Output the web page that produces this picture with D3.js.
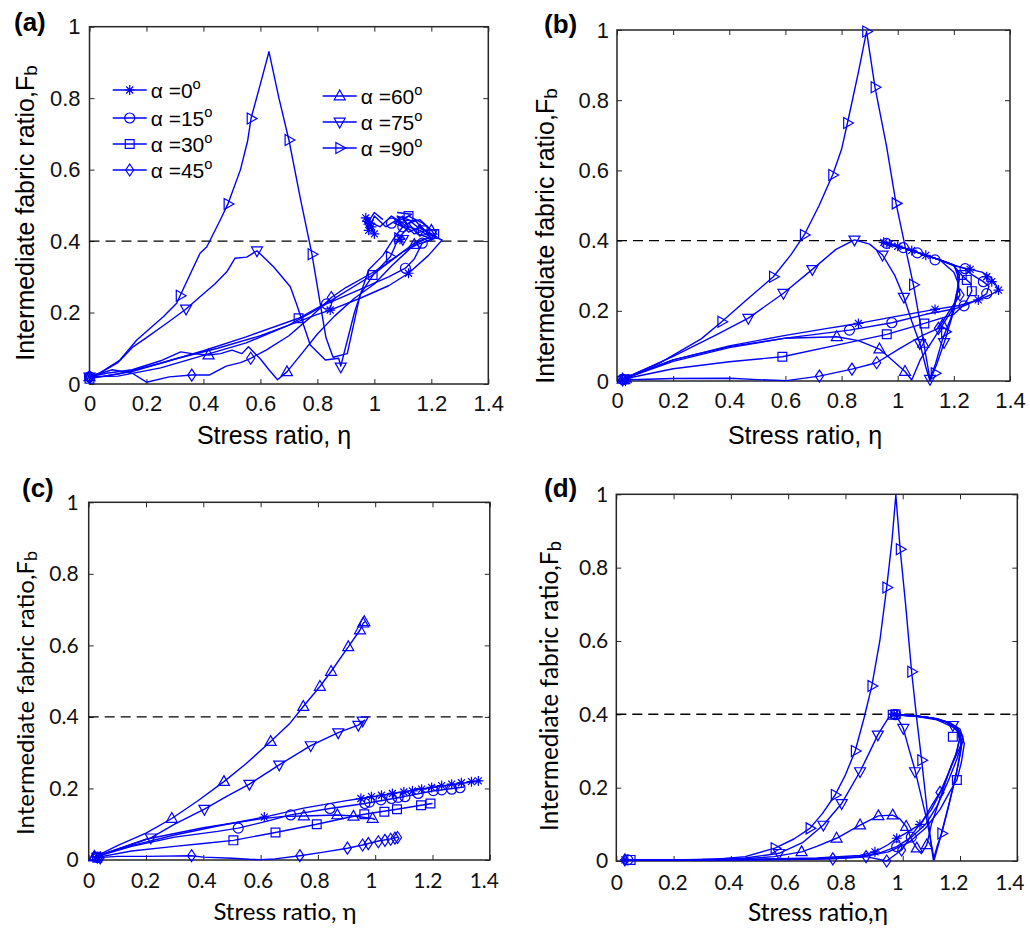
<!DOCTYPE html>
<html>
<head>
<meta charset="utf-8">
<script src="https://cdn.jsdelivr.net/npm/d3@7"></script>
<style>
  body { margin: 0; background: #fff; }
</style>
</head>
<body>
<svg id="chart" width="1030" height="931"></svg>
<script>
// axis ticks and reference level
const xTicks = [0, 0.2, 0.4, 0.6, 0.8, 1, 1.2, 1.4];
const yTicks = [0, 0.2, 0.4, 0.6, 0.8, 1];
const refLevel = 0.4;
// series: loading direction alpha (deg) and marker type
const angles = [0, 15, 30, 45, 60, 75, 90];
const symbols = ["star", "circle", "square", "diamond", "up", "down", "right"];

// (a) lines, one per alpha, [eta, Fb]
const linesA = [
  [[0,0.02],[0.05,0.022],[0.15,0.035],[0.3,0.07],[0.45,0.1],[0.6,0.135],[0.7,0.165],[0.8,0.195],[0.845,0.207],[0.95,0.24],[1.05,0.275],[1.12,0.31],[1.19,0.36],[1.238,0.403],[1.2,0.415],[1.16,0.44],[1.12,0.425],[1.08,0.46],[1.04,0.44],[1.0,0.47],[0.98,0.43],[0.965,0.455],[0.99,0.44],[0.975,0.47],[1.0,0.42],[0.985,0.45]],
  [[0,0.02],[0.1,0.022],[0.25,0.045],[0.4,0.08],[0.55,0.115],[0.7,0.165],[0.832,0.224],[0.95,0.265],[1.05,0.3],[1.109,0.324],[1.14,0.35],[1.168,0.394],[1.215,0.41],[1.18,0.43],[1.14,0.42],[1.1,0.45],[1.06,0.47],[1.02,0.44],[0.98,0.455],[1.0,0.48],[1.03,0.46]],
  [[0,0.015],[0.1,0.028],[0.25,0.058],[0.4,0.093],[0.55,0.132],[0.734,0.184],[0.85,0.235],[0.994,0.305],[1.05,0.34],[1.1,0.37],[1.15,0.39],[1.22,0.41],[1.2,0.43],[1.17,0.45],[1.12,0.47],[1.08,0.455],[1.1,0.44],[1.14,0.46],[1.19,0.42]],
  [[0,0.02],[0.08,0.04],[0.15,0.03],[0.2,0.005],[0.28,0.02],[0.359,0.025],[0.42,0.025],[0.48,0.05],[0.53,0.06],[0.566,0.072],[0.62,0.095],[0.7,0.135],[0.78,0.19],[0.849,0.242],[0.9,0.27],[0.99,0.31],[1.05,0.34],[1.1,0.37],[1.15,0.4],[1.2,0.41],[1.16,0.43],[1.12,0.44],[1.1,0.46],[1.13,0.475],[1.08,0.48]],
  [[0,0.02],[0.06,0.03],[0.15,0.04],[0.25,0.065],[0.32,0.09],[0.36,0.085],[0.418,0.081],[0.46,0.085],[0.5,0.095],[0.535,0.085],[0.558,0.104],[0.6,0.07],[0.63,0.04],[0.66,0.012],[0.693,0.034],[0.75,0.09],[0.8,0.14],[0.86,0.19],[0.93,0.24],[1.0,0.28],[1.06,0.33],[1.1,0.36],[1.14,0.39],[1.19,0.41],[1.15,0.42],[1.12,0.45],[1.16,0.46],[1.2,0.43]],
  [[0,0.02],[0.037,0.031],[0.1,0.06],[0.153,0.104],[0.2,0.13],[0.271,0.17],[0.339,0.21],[0.388,0.244],[0.44,0.28],[0.482,0.314],[0.511,0.352],[0.552,0.355],[0.588,0.373],[0.646,0.328],[0.705,0.272],[0.728,0.221],[0.775,0.109],[0.828,0.067],[0.875,0.072],[0.882,0.05],[0.93,0.2],[0.98,0.32],[1.03,0.36],[1.07,0.41],[1.1,0.44],[1.08,0.47],[1.12,0.46],[1.15,0.44],[1.2,0.42],[1.22,0.41]],
  [[0,0.02],[0.037,0.031],[0.107,0.067],[0.166,0.123],[0.259,0.188],[0.306,0.226],[0.318,0.247],[0.388,0.366],[0.412,0.384],[0.459,0.459],[0.486,0.504],[0.53,0.6],[0.555,0.68],[0.567,0.743],[0.6,0.84],[0.63,0.93],[0.665,0.8],[0.7,0.683],[0.74,0.52],[0.781,0.363],[0.83,0.13],[0.855,0.075],[0.905,0.085],[0.95,0.25],[1.0,0.31],[1.056,0.356],[1.085,0.408],[1.12,0.44],[1.1,0.47],[1.07,0.45],[1.13,0.43]]
];
const marksA = [
  [[0,0.02],[0.845,0.207],[1.12,0.31],[1.09,0.405],[0.98,0.43],[0.99,0.44],[1.0,0.42],[0.975,0.455],[0.985,0.45],[0.97,0.465]],
  [[0,0.02],[0.832,0.224],[1.109,0.324],[1.168,0.394],[1.06,0.45],[1.1,0.44]],
  [[0,0.015],[0.734,0.184],[0.994,0.305],[1.12,0.47],[1.17,0.43],[1.21,0.42]],
  [[0,0.02],[0.359,0.025],[0.566,0.072],[0.849,0.242],[1.16,0.43]],
  [[0,0.02],[0.418,0.081],[0.693,0.034],[1.14,0.39],[1.2,0.43]],
  [[0,0.02],[0.339,0.21],[0.588,0.373],[0.882,0.048],[1.1,0.405],[1.2,0.42]],
  [[0.318,0.247],[0.486,0.504],[0.567,0.743],[0.7,0.683],[0.781,0.363],[1.056,0.356],[1.085,0.408]]
];

// (b)
const linesB = [
  [[0.02,0.005],[0.2,0.06],[0.4,0.1],[0.6,0.13],[0.75,0.15],[0.86,0.164],[1.0,0.185],[1.133,0.204],[1.22,0.215],[1.287,0.231],[1.33,0.245],[1.359,0.259],[1.347,0.278],[1.329,0.297],[1.3,0.31],[1.258,0.318],[1.21,0.327],[1.15,0.345],[1.1,0.358],[1.05,0.372],[1.0,0.384],[0.97,0.39],[0.95,0.395]],
  [[0.02,0.005],[0.2,0.056],[0.4,0.095],[0.6,0.122],[0.828,0.145],[0.979,0.166],[1.1,0.19],[1.2,0.205],[1.236,0.214],[1.28,0.23],[1.317,0.249],[1.325,0.27],[1.305,0.283],[1.27,0.3],[1.24,0.32],[1.2,0.33],[1.15,0.345],[1.1,0.358],[1.05,0.372],[1.0,0.384],[0.97,0.39],[0.95,0.395]],
  [[0.02,0.005],[0.2,0.035],[0.4,0.055],[0.589,0.069],[0.8,0.105],[0.961,0.133],[1.095,0.164],[1.2,0.19],[1.24,0.22],[1.264,0.256],[1.26,0.278],[1.246,0.288],[1.228,0.302],[1.2,0.328],[1.15,0.345],[1.1,0.358],[1.05,0.372],[1.0,0.384],[0.97,0.39],[0.95,0.395]],
  [[0.02,0.003],[0.2,0.007],[0.403,0.008],[0.5,0.004],[0.604,0.001],[0.721,0.014],[0.837,0.034],[0.925,0.052],[1.008,0.093],[1.09,0.131],[1.145,0.15],[1.186,0.202],[1.222,0.245],[1.215,0.28],[1.2,0.31],[1.15,0.345],[1.1,0.358],[1.05,0.372],[1.0,0.384],[0.97,0.39],[0.95,0.395]],
  [[0.02,0.005],[0.2,0.06],[0.4,0.098],[0.6,0.122],[0.783,0.126],[0.86,0.115],[0.935,0.091],[0.98,0.06],[1.026,0.027],[1.05,0.003],[1.08,0.06],[1.12,0.11],[1.16,0.16],[1.2,0.21],[1.215,0.26],[1.215,0.3],[1.2,0.33],[1.15,0.345],[1.1,0.358],[1.05,0.372],[1.0,0.384],[0.97,0.39],[0.95,0.395]],
  [[0.02,0.005],[0.2,0.07],[0.35,0.13],[0.468,0.179],[0.593,0.25],[0.696,0.318],[0.78,0.375],[0.846,0.402],[0.9,0.39],[0.946,0.359],[0.99,0.3],[1.022,0.239],[1.05,0.17],[1.079,0.107],[1.1,0.04],[1.115,0.0],[1.14,0.05],[1.17,0.12],[1.2,0.2],[1.215,0.26],[1.22,0.3],[1.2,0.33],[1.15,0.345],[1.1,0.358],[1.05,0.372],[1.0,0.384],[0.97,0.39],[0.95,0.395]],
  [[0.02,0.005],[0.15,0.05],[0.3,0.12],[0.373,0.169],[0.46,0.23],[0.557,0.297],[0.62,0.36],[0.667,0.416],[0.72,0.5],[0.768,0.587],[0.8,0.66],[0.821,0.735],[0.86,0.88],[0.889,0.996],[0.919,0.837],[0.96,0.67],[0.994,0.506],[1.03,0.37],[1.056,0.274],[1.09,0.12],[1.115,0.005],[1.135,0.05],[1.16,0.12],[1.19,0.18],[1.21,0.25],[1.22,0.3],[1.2,0.33],[1.15,0.345],[1.1,0.358],[1.05,0.372],[1.0,0.384],[0.97,0.39],[0.95,0.395]]
];
const marksB = [
  [[0.02,0.005],[0.04,0.005],[0.86,0.164],[1.133,0.204],[1.287,0.231],[1.359,0.259],[1.335,0.283],[1.317,0.297],[1.258,0.318],[1.1,0.358],[1.05,0.372],[1.0,0.384],[0.97,0.39],[0.95,0.395]],
  [[0.02,0.005],[0.828,0.145],[0.979,0.166],[1.236,0.214],[1.317,0.249],[1.305,0.283],[1.24,0.32],[1.133,0.345],[1.07,0.365],[1.02,0.38],[0.96,0.392]],
  [[0.03,0.005],[0.589,0.069],[0.961,0.133],[1.095,0.164],[1.264,0.256],[1.246,0.288],[1.228,0.302]],
  [[0.02,0.003],[0.721,0.014],[0.837,0.034],[0.925,0.052],[1.145,0.15],[1.222,0.245]],
  [[0.02,0.005],[0.783,0.126],[0.935,0.091],[1.026,0.027],[1.091,0.107],[1.16,0.16]],
  [[0.03,0.005],[0.468,0.179],[0.593,0.25],[0.696,0.318],[0.846,0.402],[0.946,0.359],[1.022,0.239],[1.079,0.107],[1.115,0.005],[1.165,0.11]],
  [[0.373,0.169],[0.557,0.297],[0.667,0.416],[0.768,0.587],[0.821,0.735],[0.889,0.996],[0.919,0.837],[0.994,0.506],[1.056,0.274],[1.133,0.022],[1.17,0.14]]
];

// (c)
const linesC = [
  [[0.02,0.008],[0.15,0.04],[0.3,0.07],[0.45,0.095],[0.613,0.12],[0.75,0.145],[0.9,0.166],[0.95,0.172],[1.05,0.185],[1.15,0.197],[1.25,0.209],[1.35,0.219],[1.37,0.222]],
  [[0.02,0.008],[0.15,0.038],[0.3,0.064],[0.45,0.08],[0.522,0.089],[0.62,0.108],[0.705,0.126],[0.842,0.144],[0.964,0.158],[1.1,0.177],[1.2,0.193],[1.31,0.204]],
  [[0.02,0.006],[0.15,0.025],[0.3,0.038],[0.4,0.046],[0.505,0.055],[0.652,0.077],[0.796,0.1],[0.9,0.118],[0.962,0.128],[1.076,0.142],[1.16,0.153],[1.2,0.158]],
  [[0.02,0.006],[0.1,0.01],[0.2,0.01],[0.359,0.012],[0.4,0.008],[0.5,0.005],[0.56,0.002],[0.6,0.001],[0.65,0.003],[0.737,0.012],[0.82,0.022],[0.903,0.033],[0.956,0.042],[1.011,0.053],[1.054,0.059],[1.08,0.064]],
  [[0.02,0.008],[0.2,0.058],[0.4,0.09],[0.6,0.115],[0.68,0.122],[0.751,0.123],[0.868,0.126],[0.924,0.123],[0.991,0.116],[1.0,0.113]],
  [[0.02,0.008],[0.1,0.03],[0.217,0.062],[0.3,0.1],[0.404,0.142],[0.48,0.177],[0.561,0.212],[0.665,0.266],[0.775,0.32],[0.871,0.356],[0.941,0.377],[0.965,0.392]],
  [[0.02,0.008],[0.1,0.04],[0.2,0.075],[0.29,0.116],[0.38,0.165],[0.472,0.219],[0.55,0.27],[0.635,0.331],[0.7,0.38],[0.749,0.429],[0.807,0.485],[0.846,0.527],[0.906,0.596],[0.947,0.643],[0.958,0.662],[0.965,0.667]]
];
const marksC = [
  [[0.03,0.008],[0.613,0.12],[0.95,0.172],[0.987,0.177],[1.022,0.181],[1.06,0.186],[1.1,0.19],[1.13,0.193],[1.162,0.198],[1.197,0.203],[1.232,0.208],[1.267,0.212],[1.301,0.216],[1.336,0.219],[1.36,0.221]],
  [[0.03,0.008],[0.522,0.089],[0.705,0.126],[0.842,0.144],[0.964,0.158],[0.98,0.162],[1.02,0.168],[1.057,0.172],[1.08,0.175],[1.104,0.177],[1.15,0.186],[1.203,0.194],[1.232,0.196],[1.267,0.198],[1.296,0.202]],
  [[0.03,0.006],[0.505,0.055],[0.652,0.077],[0.796,0.1],[0.962,0.128],[1.032,0.135],[1.076,0.142],[1.16,0.153],[1.193,0.158]],
  [[0.04,0.006],[0.359,0.012],[0.737,0.012],[0.903,0.033],[0.956,0.042],[0.976,0.046],[1.011,0.051],[1.034,0.055],[1.054,0.058],[1.069,0.061],[1.078,0.063]],
  [[0.02,0.008],[0.751,0.123],[0.868,0.126],[0.924,0.122],[0.991,0.116]],
  [[0.03,0.008],[0.217,0.062],[0.404,0.142],[0.561,0.212],[0.665,0.266],[0.775,0.32],[0.871,0.356],[0.941,0.377],[0.956,0.389]],
  [[0.02,0.01],[0.29,0.116],[0.472,0.219],[0.635,0.331],[0.749,0.429],[0.807,0.485],[0.846,0.527],[0.906,0.596],[0.947,0.643],[0.958,0.662],[0.962,0.666]]
];

// (d)
const linesD = [
  [[0.02,0.003],[0.4,0.004],[0.7,0.008],[0.85,0.015],[0.903,0.025],[0.95,0.045],[0.979,0.062],[1.02,0.08],[1.06,0.1],[1.1,0.14],[1.14,0.2],[1.17,0.26],[1.2,0.31],[1.21,0.34],[1.19,0.365],[1.15,0.38],[1.1,0.39],[1.04,0.396],[0.97,0.4]],
  [[0.02,0.003],[0.4,0.003],[0.7,0.006],[0.85,0.012],[0.92,0.022],[0.979,0.039],[1.03,0.065],[1.08,0.1],[1.12,0.15],[1.16,0.22],[1.19,0.28],[1.212,0.33],[1.2,0.36],[1.16,0.378],[1.1,0.39],[1.04,0.396],[0.97,0.4]],
  [[0.02,0.003],[0.4,0.003],[0.7,0.005],[0.85,0.01],[0.95,0.025],[1.02,0.05],[1.08,0.09],[1.13,0.14],[1.165,0.19],[1.189,0.221],[1.205,0.27],[1.215,0.32],[1.205,0.345],[1.175,0.365],[1.12,0.385],[1.05,0.394],[0.97,0.4]],
  [[0.02,0.003],[0.4,0.003],[0.6,0.004],[0.756,0.006],[0.872,0.012],[0.944,0.0],[0.996,0.03],[1.03,0.07],[1.07,0.11],[1.1,0.15],[1.13,0.187],[1.16,0.24],[1.185,0.29],[1.198,0.33],[1.19,0.36],[1.15,0.38],[1.1,0.39],[1.04,0.396],[0.98,0.398]],
  [[0.02,0.003],[0.3,0.003],[0.45,0.006],[0.55,0.012],[0.647,0.025],[0.7,0.04],[0.769,0.062],[0.851,0.098],[0.915,0.123],[0.965,0.125],[0.99,0.115],[1.012,0.094],[1.03,0.06],[1.049,0.035],[1.065,0.02],[1.084,0.044],[1.1,0.1],[1.13,0.17],[1.16,0.24],[1.19,0.3],[1.2,0.34],[1.18,0.37],[1.12,0.388],[1.05,0.395],[0.98,0.398]],
  [[0.02,0.003],[0.3,0.004],[0.45,0.008],[0.568,0.021],[0.65,0.05],[0.723,0.098],[0.787,0.157],[0.851,0.244],[0.88,0.29],[0.913,0.344],[0.95,0.39],[0.975,0.4],[1.002,0.362],[1.02,0.31],[1.043,0.248],[1.084,0.112],[1.11,0.003],[1.13,0.06],[1.16,0.15],[1.19,0.25],[1.205,0.31],[1.2,0.35],[1.17,0.375],[1.12,0.388],[1.05,0.395],[0.98,0.398]],
  [[0.02,0.003],[0.2,0.003],[0.35,0.005],[0.45,0.012],[0.554,0.035],[0.62,0.06],[0.676,0.089],[0.72,0.13],[0.764,0.18],[0.8,0.235],[0.834,0.3],[0.865,0.39],[0.892,0.477],[0.92,0.6],[0.944,0.746],[0.962,0.87],[0.976,0.998],[0.991,0.85],[1.01,0.7],[1.031,0.516],[1.05,0.38],[1.066,0.275],[1.085,0.14],[1.1,0.04],[1.107,0.003],[1.12,0.04],[1.136,0.075],[1.16,0.15],[1.185,0.23],[1.2,0.29],[1.205,0.33],[1.19,0.36],[1.15,0.38],[1.1,0.39],[1.05,0.395],[0.98,0.398]]
];
const marksD = [
  [[0.03,0.003],[0.903,0.025],[0.979,0.062],[1.06,0.1],[0.97,0.4],[0.98,0.398]],
  [[0.04,0.003],[0.979,0.039],[1.03,0.065],[0.975,0.399]],
  [[0.05,0.003],[1.189,0.221],[1.175,0.339],[0.965,0.399],[0.975,0.4]],
  [[0.03,0.003],[0.756,0.006],[0.872,0.012],[0.944,0.0],[0.996,0.03],[1.13,0.187]],
  [[0.647,0.025],[0.769,0.062],[0.851,0.098],[0.915,0.123],[0.965,0.125],[1.012,0.094],[1.049,0.035],[1.084,0.044]],
  [[0.568,0.021],[0.723,0.098],[0.787,0.157],[0.851,0.244],[0.913,0.344],[1.002,0.362],[1.043,0.244],[1.175,0.37]],
  [[0.554,0.035],[0.676,0.089],[0.764,0.18],[0.834,0.3],[0.892,0.477],[0.944,0.746],[0.991,0.85],[1.031,0.516],[1.066,0.275],[1.136,0.075]]
];

const arial = "'Liberation Sans', Arial, sans-serif";
const calib = "Lato, 'Open Sans', sans-serif";
const blue = "#0000ff";

// labShift: x tick labels in the lower panels sit a little left of their ticks
const panels = [
  {tag: "(a)", lines: linesA, marks: marksA, l: 89.5, t: 26.7, r: 488.3, b: 384,
   font: arial, tickFs: 22, labFs: 25, padX: 11, padY: 9, tagXY: [14, 31], labShift: 0,
   yLab: [34, 213], xLab: [274, 444], xText: "Stress ratio, \u03b7", legend: true},
  {tag: "(b)", lines: linesB, marks: marksB, l: 617, t: 30, r: 1010, b: 381,
   font: arial, tickFs: 22, labFs: 25, padX: 11, padY: 8, tagXY: [544, 33], labShift: 0,
   yLab: [554, 236], xLab: [805, 444], xText: "Stress ratio, \u03b7"},
  {tag: "(c)", lines: linesC, marks: marksC, l: 88.7, t: 502.3, r: 489.8, b: 860,
   font: calib, tickFs: 21, labFs: 24, padX: 13, padY: 10, tagXY: [22, 497], labShift: 6,
   yLab: [34, 693], xLab: [285, 920], xText: "Stress ratio, \u03b7", symOverride: {6: "up"}},
  {tag: "(d)", lines: linesD, marks: marksD, l: 616.3, t: 494.3, r: 1017.3, b: 861,
   font: calib, tickFs: 21, labFs: 24.5, padX: 14, padY: 8, tagXY: [544, 497], labShift: 8,
   yLab: [558, 686], xLab: [818, 921], xText: "Stress ratio,\u03b7"}
];

// marker shapes, centred on 0,0
const symbolPath = {
  star: "M-5,0H5M0,-5V5M-3.5,-3.5L3.5,3.5M-3.5,3.5L3.5,-3.5",
  circle: "M5,0A5,5 0 1,1 -5,0A5,5 0 1,1 5,0Z",
  square: "M-4.4,-4.4H4.4V4.4H-4.4Z",
  diamond: "M0,-6L4,0L0,6L-4,0Z",
  up: "M0,-6L5.5,3.8H-5.5Z",
  down: "M0,6L5.5,-3.8H-5.5Z",
  right: "M6,0L-3.8,-5.5V5.5Z"
};

const svg = d3.select("#chart");

panels.forEach(p => drawPanel(p));

function drawPanel(p) {
  const x = d3.scaleLinear().domain([0, 1.4]).range([p.l, p.r]);
  const y = d3.scaleLinear().domain([0, 1]).range([p.b, p.t]);
  const g = svg.append("g").style("font-family", p.font);

  // inner ticks on all four sides
  const fmt = d => String(d);
  const ax = [
    [d3.axisBottom(x).tickValues(xTicks).tickFormat(fmt).tickPadding(p.padX), p.b],
    [d3.axisTop(x).tickValues(xTicks).tickFormat(""), p.t]
  ];
  ax.forEach(([a, pos]) => {
    const s = g.append("g").attr("transform", `translate(0,${pos})`)
      .call(a.tickSize(-5));
    s.select(".domain").remove();
    s.selectAll("line").attr("stroke", "#262626");
    s.selectAll("text").attr("fill", "#111").style("font-size", p.tickFs + "px").style("font-family", p.font)
      .attr("dx", d => -p.labShift * d / 1.4);
  });
  const ay = [
    [d3.axisLeft(y).tickValues(yTicks).tickFormat(fmt).tickPadding(p.padY), p.l],
    [d3.axisRight(y).tickValues(yTicks).tickFormat(""), p.r]
  ];
  ay.forEach(([a, pos]) => {
    const s = g.append("g").attr("transform", `translate(${pos},0)`)
      .call(a.tickSize(-5));
    s.select(".domain").remove();
    s.selectAll("line").attr("stroke", "#262626");
    s.selectAll("text").attr("fill", "#111").style("font-size", p.tickFs + "px").style("font-family", p.font);
  });

  // frame
  g.append("rect")
    .attr("x", p.l).attr("y", p.t)
    .attr("width", p.r - p.l).attr("height", p.b - p.t)
    .attr("fill", "none").attr("stroke", "#262626").attr("stroke-width", 1.5);

  // reference dashed line
  g.append("line")
    .attr("x1", x(0)).attr("x2", x(1.4))
    .attr("y1", y(refLevel)).attr("y2", y(refLevel))
    .attr("stroke", "#000").attr("stroke-width", 1.4)
    .attr("stroke-dasharray", "10,6");

  // series
  const line = d3.line().x(d => x(d[0])).y(d => y(d[1]));
  p.lines.forEach((pts, i) => {
    const sym = (p.symOverride && p.symOverride[i]) || symbols[i];
    g.append("path")
      .attr("d", line(pts))
      .attr("fill", "none").attr("stroke", blue)
      .attr("stroke-width", 1.4).attr("stroke-linejoin", "round");
    g.selectAll(null)
      .data(p.marks[i])
      .enter().append("path")
      .attr("transform", d => `translate(${x(d[0])},${y(d[1])})`)
      .attr("d", symbolPath[sym])
      .attr("fill", "none").attr("stroke", blue).attr("stroke-width", 1.2);
  });

  // labels
  g.append("text")
    .attr("x", p.tagXY[0]).attr("y", p.tagXY[1])
    .style("font-family", arial).style("font-weight", "bold").style("font-size", "26px")
    .text(p.tag);

  g.append("text")
    .attr("x", p.xLab[0]).attr("y", p.xLab[1])
    .attr("text-anchor", "middle")
    .style("font-size", p.labFs + "px")
    .text(p.xText);

  const yl = g.append("text")
    .attr("transform", `translate(${p.yLab[0]},${p.yLab[1]}) rotate(-90)`)
    .attr("text-anchor", "middle")
    .style("font-size", p.labFs + "px");
  yl.append("tspan").text("Intermediate fabric ratio,F");
  yl.append("tspan").attr("dy", "0.18em").style("font-size", "0.75em").text("b");

  if (p.legend) drawLegend(g);
}

function drawLegend(g) {
  // two columns: 0-45 on the left, 60-90 on the right
  const cols = [
    {idx: [0, 1, 2, 3], x0: 112.7, ys: [90, 118, 144, 170]},
    {idx: [4, 5, 6], x0: 322.7, ys: [96, 122, 148]}
  ];
  cols.forEach(c => {
    c.idx.forEach((i, k) => {
      const yy = c.ys[k];
      g.append("line")
        .attr("x1", c.x0).attr("x2", c.x0 + 34)
        .attr("y1", yy).attr("y2", yy)
        .attr("stroke", blue).attr("stroke-width", 1.4);
      g.append("path")
        .attr("transform", `translate(${c.x0 + 17},${yy})`)
        .attr("d", symbolPath[symbols[i]])
        .attr("fill", "none").attr("stroke", blue).attr("stroke-width", 1.2);
      const t = g.append("text")
        .attr("x", c.x0 + 38).attr("y", yy).attr("dy", "0.36em")
        .style("font-family", arial).style("font-size", "21px");
      t.append("tspan").text("\u03b1 =" + angles[i]);
      t.append("tspan").attr("dy", "-0.55em").style("font-size", "0.7em").text("o");
    });
  });
}
</script>
</body>
</html>
